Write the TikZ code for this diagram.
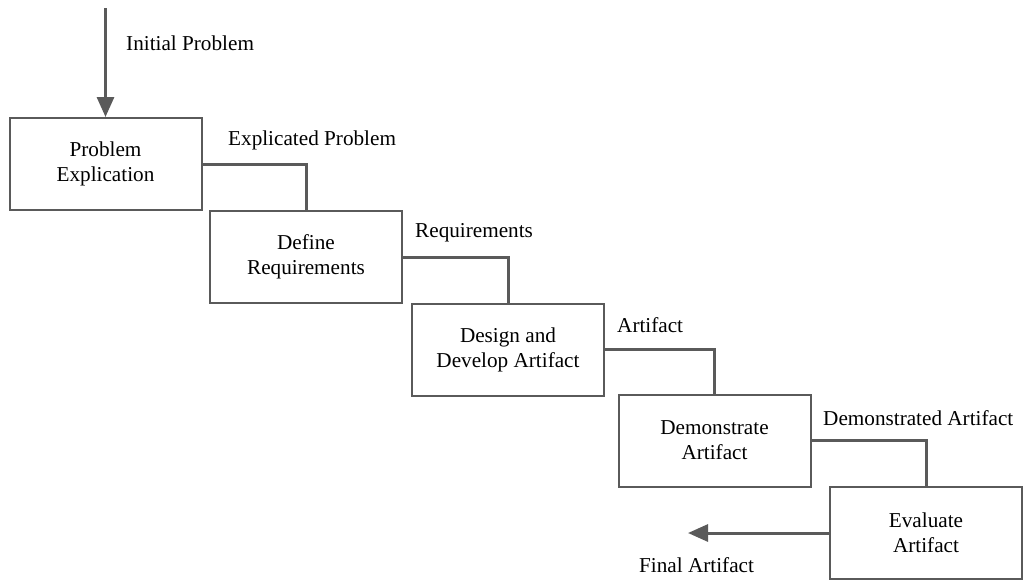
\documentclass[tikz,border=0pt]{standalone}
\usepackage{fontspec}
\setmainfont{Liberation Serif}
\usetikzlibrary{arrows.meta}
\definecolor{linegray}{HTML}{5A5A5A}
\begin{document}
\begin{tikzpicture}[x=1pt,y=-1pt,
  font=\fontsize{21.2}{25}\selectfont,
  stepbox/.style={draw=linegray,line width=2pt,fill=white,minimum width=192pt,minimum height=92pt,align=center,inner sep=0pt},
  flow/.style={draw=linegray,line width=3pt},
  flowarrow/.style={flow,-{Triangle[length=20pt,width=17pt]}},
  lbl/.style={anchor=west,inner sep=0pt}]
\useasboundingbox (0,0) rectangle (1026,581);

% process steps
\node[stepbox] (b1) at (105.5,164) {Problem\\Explication};
\node[stepbox] (b2) at (306,257) {Define\\Requirements};
\node[stepbox] (b3) at (508,349.5) {Design and\\Develop Artifact};
\node[stepbox] (b4) at (714.5,440.5) {Demonstrate\\Artifact};
\node[stepbox] (b5) at (926,533) {Evaluate\\Artifact};

% input and output points
\coordinate (in) at (105.5,8);
\coordinate (out) at (688,533);

% connectors between steps
\draw[flowarrow] (in) -- (b1.north);
\draw[flow] (b1.east) -| (b2.north);
\draw[flow] (b2.east) -| (b3.north);
\draw[flow] (b3.east) -| (b4.north);
\draw[flow] (b4.east) -| (b5.north);
\draw[flowarrow] (b5.west) -- (out);

% intermediate results
\node[lbl] (l0) at (126,43) {Initial Problem};
\node[lbl] (l1) at (228,140) {Explicated Problem};
\node[lbl] (l2) at (415,233) {Requirements};
\node[lbl] (l3) at (617,325) {Artifact};
\node[lbl] (l4) at (823,418) {Demonstrated Artifact};
\node[lbl] (l5) at (639,565) {Final Artifact};
\end{tikzpicture}
\end{document}
